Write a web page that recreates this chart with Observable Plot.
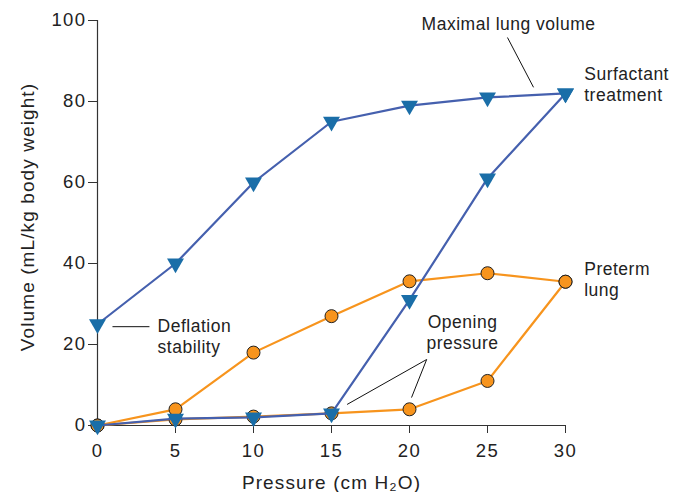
<!DOCTYPE html>
<html>
<head>
<meta charset="utf-8">
<script src="https://cdn.jsdelivr.net/npm/d3@7"></script>
<script src="https://cdn.jsdelivr.net/npm/@observablehq/plot@0.6"></script>
<style>
  html, body { margin: 0; padding: 0; background: #fff; }
  #chart svg { font-family: "Liberation Sans", Arial, sans-serif; }
  #chart g[aria-label="x-axis tick label"] text,
  #chart g[aria-label="y-axis tick label"] text { letter-spacing: 1.4px; font-size: 18.5px; }
  #chart g.axis-title text { letter-spacing: 1.1px; font-size: 19px; }
  #chart g.annot text { letter-spacing: 0.5px; font-size: 17.5px; }
</style>
</head>
<body>
<div id="chart"></div>
<script>
// Data
const pressure = [0, 5, 10, 15, 20, 25, 30];
const surfInflation = [0, 1.7, 2, 3, 31, 61, 82];
const surfDeflation = [25, 40, 60, 75, 79, 81, 82];
const pretermInflation = [0, 1.5, 2.2, 3, 4, 11, 35.5];
const pretermDeflation = [0, 4, 18, 27, 35.6, 37.6, 35.5];
const xTicks = [0, 5, 10, 15, 20, 25, 30];
const yTicks = [0, 20, 40, 60, 80, 100];

// Annotations (data coordinates)
const labelsStart = [
  {x: 31.2, y: 84.3, text: "Surfactant\ntreatment"},
  {x: 31.2, y: 36.3, text: "Preterm\nlung"},
  {x: 3.85, y: 22.1, text: "Deflation\nstability"}
];
const labelsMiddle = [
  {x: 26.35, y: 99.4, text: "Maximal lung volume"},
  {x: 23.4, y: 23.1, text: "Opening\npressure"}
];
const leaders = [
  {x1: 26.28, y1: 95.8, x2: 27.95, y2: 83.5},
  {x1: 0.96, y1: 24.4, x2: 3.33, y2: 24.4},
  {x1: 21.1, y1: 16.3, x2: 16.0, y2: 5.2},
  {x1: 21.1, y1: 16.3, x2: 20.13, y2: 6.9}
];

const mk = (ys) => pressure.map((p, i) => ({x: p, y: ys[i]}));
const BLUE_LINE = "#4560ae";
const BLUE_MARK = "#1a6ea8";
const ORANGE = "#f7941d";
const AXIS = "#333333";
const TEXT = "#222222";

const chart = Plot.plot({
  width: 682,
  height: 492,
  marginLeft: 97,
  marginRight: 117,
  marginTop: 20,
  marginBottom: 67,
  style: {fontFamily: "Liberation Sans, Arial, sans-serif", color: TEXT},
  x: {domain: [0, 30]},
  y: {domain: [0, 100]},
  marks: [
    Plot.axisX({ticks: xTicks, tickSize: 8, tickPadding: 10, fontSize: 18.5, stroke: AXIS, label: null, fill: TEXT}),
    Plot.axisY({ticks: yTicks, tickSize: 9, tickPadding: 2, fontSize: 18.5, stroke: AXIS, label: null, fill: TEXT}),
    Plot.text(["Pressure (cm H₂O)"], {frameAnchor: "bottom", dy: 57, lineAnchor: "middle", textAnchor: "middle", fontSize: 19, fill: TEXT, className: "axis-title"}),
    Plot.text(["Volume (mL/kg body weight)"], {frameAnchor: "left", dx: -70, dy: -6, rotate: -90, lineAnchor: "middle", textAnchor: "middle", fontSize: 19, fill: TEXT, className: "axis-title"}),
    Plot.ruleX([0], {stroke: AXIS, strokeWidth: 1.2}),
    Plot.ruleY([0], {stroke: AXIS, strokeWidth: 1.2}),
    Plot.link(leaders, {x1: "x1", y1: "y1", x2: "x2", y2: "y2", stroke: "#111", strokeWidth: 1}),
    Plot.line(mk(pretermInflation), {x: "x", y: "y", stroke: ORANGE, strokeWidth: 2.2}),
    Plot.line(mk(pretermDeflation), {x: "x", y: "y", stroke: ORANGE, strokeWidth: 2.2}),
    Plot.dot(mk(pretermInflation), {x: "x", y: "y", r: 6.5, fill: ORANGE, stroke: "#222", strokeWidth: 1}),
    Plot.dot(mk(pretermDeflation), {x: "x", y: "y", r: 6.5, fill: ORANGE, stroke: "#222", strokeWidth: 1}),
    Plot.line(mk(surfInflation), {x: "x", y: "y", stroke: BLUE_LINE, strokeWidth: 2.2}),
    Plot.line(mk(surfDeflation), {x: "x", y: "y", stroke: BLUE_LINE, strokeWidth: 2.2}),
    Plot.dot(mk(surfInflation), {x: "x", y: "y", r: 6.3, symbol: "triangle", rotate: 180, fill: BLUE_MARK, stroke: "none"}),
    Plot.dot(mk(surfDeflation), {x: "x", y: "y", r: 6.3, symbol: "triangle", rotate: 180, fill: BLUE_MARK, stroke: "none"}),
    Plot.text(labelsStart, {x: "x", y: "y", text: "text", textAnchor: "start", fontSize: 17.5, lineHeight: 1.2, fill: TEXT, className: "annot"}),
    Plot.text(labelsMiddle, {x: "x", y: "y", text: "text", textAnchor: "middle", fontSize: 17.5, lineHeight: 1.2, fill: TEXT, className: "annot"})
  ]
});
document.getElementById("chart").appendChild(chart);
</script>
</body>
</html>
